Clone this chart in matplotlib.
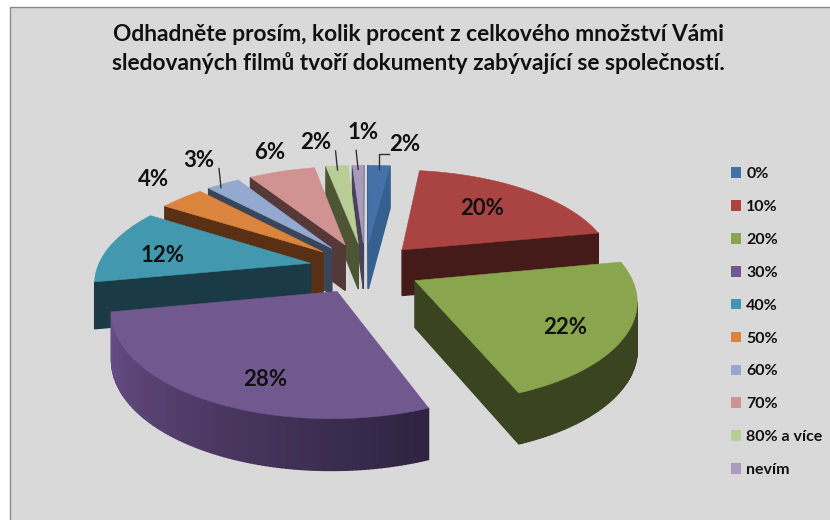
import numpy as np
import matplotlib
matplotlib.use('Agg')
from matplotlib import pyplot as plt
from matplotlib.patches import Patch, Rectangle
from matplotlib.colors import to_rgb

plt.rcParams['font.family'] = ['Lato', 'DejaVu Sans']

title = 'Odhadněte prosím, kolik procent z celkového množství Vámi\nsledovaných filmů tvoří dokumenty zabývající se společností.'
categories = ['0%', '10%', '20%', '30%', '40%', '50%', '60%', '70%', '80% a více', 'nevím']
values = [2, 20, 22, 28, 12, 4, 3, 6, 2, 1]

top_colors = ['#4472a8', '#a94442', '#89a54e', '#71588f', '#4198af',
              '#db843d', '#93a9cf', '#d19392', '#b9cd96', '#a99bbd']
side_colors = ['#35608f', '#451b1a', '#3a4420', '#322640', '#1a3a45',
               '#5a3015', '#394659', '#553838', '#4d5535', '#4a4058']
# outer wall runs from the first colour to the second going clockwise
wall_colors = {3: ('#2e2340', '#6a4f88')}

# label anchor: fraction of radius along the slice middle, then pixel nudge
label_frac = [1, .6, .6, .6, .6, 1, 1, 1, 1, 1]
label_nudge = [(26, -21), (3, -4), (27, 16), (1, 27), (-27, 3),
               (-28, -19), (-24, -23), (-12, -19), (-21, -23), (5, -33)]
leader_dx = {0: 0, 6: -5, 8: 0, 9: 0}

# pie geometry in pixels
cx, cy = 365, 268
R = 210
explode = 55
k = .46
persp = .16
depth = 46


def project(X, Y, Z=0):
    s = 1/(.985 + persp*Y/R)
    return cx + X*s, cy - k*Y*s + Z*np.sqrt(s)


def point(theta, mid, frac=1.0):
    X = explode*np.sin(mid) + frac*R*np.sin(theta)
    Y = explode*np.cos(mid) + frac*R*np.cos(theta)
    return X, Y


def front_facing(a, b, c, d):
    xs = [a[0], b[0], c[0], d[0]]
    ys = [a[1], b[1], c[1], d[1]]
    area = 0
    for i in range(4):
        j = (i+1) % 4
        area += xs[i]*ys[j] - xs[j]*ys[i]
    return area < 0


def draw_face(ax, X0, Y0, X1, Y1, color):
    a = project(X0, Y0)
    b = project(X1, Y1)
    c = project(X1, Y1, depth)
    d = project(X0, Y0, depth)
    if front_facing(a, b, c, d):
        ax.fill([a[0], b[0], c[0], d[0]], [a[1], b[1], c[1], d[1]],
                color=color, lw=1.0, zorder=3)


fig = plt.figure(figsize=(8.3, 5.2), dpi=100)
ax = fig.add_axes([0, 0, 1, 1])
ax.set_xlim(0, 830)
ax.set_ylim(520, 0)
ax.axis('off')
ax.add_patch(Rectangle((10, 7), 830, 530, facecolor='#d9d9d9', edgecolor='#8c8c8c', lw=1, zorder=0))

edges = np.radians(np.concatenate([[0], np.cumsum(values)])*3.6)
mids = (edges[:-1] + edges[1:])/2

# back slices first
for i in np.argsort(-np.cos(mids)):
    t0, t1, m = edges[i], edges[i+1], mids[i]
    tipX, tipY = point(0, m, 0)
    thetas = np.linspace(t0, t1, max(int(values[i]*4), 4) + 1)
    X, Y = point(thetas, m)

    start, end = wall_colors.get(i, (side_colors[i], side_colors[i]))
    start, end = np.array(to_rgb(start)), np.array(to_rgb(end))
    for j in range(len(thetas)-1):
        f = j/(len(thetas)-2)
        draw_face(ax, X[j], Y[j], X[j+1], Y[j+1], tuple(start + (end-start)*f))
    draw_face(ax, tipX, tipY, X[0], Y[0], side_colors[i])
    draw_face(ax, X[-1], Y[-1], tipX, tipY, side_colors[i])

    px, py = project(np.concatenate([[tipX], X]), np.concatenate([[tipY], Y]))
    ax.fill(px, py, color=top_colors[i], lw=.4, zorder=3)

    # labels
    lx, ly = project(*point(m, m, label_frac[i]))
    ax.text(lx + label_nudge[i][0], ly + label_nudge[i][1], '%d%%' % values[i],
            ha='center', va='center', fontsize=16, fontweight='bold', color='#111111', zorder=5)
    if i in leader_dx:
        ex, ey = project(*point(m, m, .97))
        ex = ex + leader_dx[i]
        if i == 0:
            ax.plot([ex, ex, ex + 10], [ey + 2, ey - 13, ey - 13], color='#333333', lw=1, zorder=4)
        else:
            ax.plot([ex, ex - 2], [ey + 2, ey - 17], color='#333333', lw=1, zorder=4)

ax.text(418, 49, title, ha='center', va='center', fontsize=16.4, fontweight='bold',
        color='#111111', linespacing=1.36, zorder=5)

handles = [Patch(facecolor=c, edgecolor='none') for c in top_colors]
ax.legend(handles, categories, loc='upper left', bbox_to_anchor=(716.6/830, 1 - 153/520),
          frameon=False, labelspacing=1.18, handlelength=.65, handleheight=.65,
          handletextpad=.3, labelcolor='#111111', prop={'family': 'Lato', 'weight': 'bold', 'size': 11.5})

fig.savefig('out.png', dpi=100)
